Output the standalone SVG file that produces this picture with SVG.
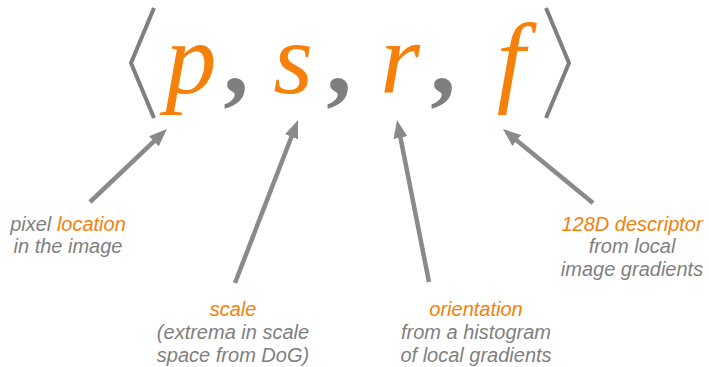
<svg xmlns="http://www.w3.org/2000/svg" width="709" height="367" viewBox="0 0 709 367">
<style>
.math{font-family:"Liberation Serif","DejaVu Serif",serif;font-style:italic;font-size:102px;fill:#F5800A;text-anchor:middle}
.comma{font-family:"Liberation Serif","DejaVu Serif",serif;font-size:102px;fill:#7f7f7f;text-anchor:middle;font-weight:bold}
.br{fill:none;stroke:#7f7f7f;stroke-width:4;stroke-linejoin:miter}
.lbl{font-family:"Liberation Sans",Arial,sans-serif;font-style:italic;font-size:20px;fill:#7f7f7f;text-anchor:middle}
.hl{fill:#F5800A}
.arr{stroke:#8a8a8a;stroke-width:4.5;fill:none;marker-end:url(#ah)}
</style>
<defs>
<marker id="ah" viewBox="0 0 18 14" refX="8" refY="7" markerWidth="18" markerHeight="14" markerUnits="userSpaceOnUse" orient="auto">
<path d="M0,0 L18,7 L0,14 z" fill="#8a8a8a"/>
</marker>
</defs>
<g id="tuple">
<polyline class="br" points="154,8 131,63 154,118"/>
<polyline class="br" points="546,8 569,63 546,118"/>
<text class="math" x="191" y="93">p</text>
<text class="comma" x="236" y="93">,</text>
<text class="math" x="293" y="93">s</text>
<text class="comma" x="339" y="93">,</text>
<text class="math" x="400" y="93">r</text>
<text class="comma" x="443" y="93">,</text>
<text class="math" x="511" y="93">f</text>
</g>
<g id="connectors">
<line class="arr" x1="90" y1="202" x2="159.7" y2="135.9"/>
<line class="arr" x1="235" y1="283" x2="294.4" y2="129.3"/>
<line class="arr" x1="429" y1="282" x2="398.9" y2="129.8"/>
<line class="arr" x1="593" y1="203" x2="510.7" y2="135.4"/>
</g>
<g id="label-location">
<text class="lbl" x="68" y="231">pixel <tspan class="hl">location</tspan></text>
<text class="lbl" x="68" y="253">in the image</text>
</g>
<g id="label-scale">
<text class="lbl hl" x="233" y="316">scale</text>
<text class="lbl" x="233" y="339">(extrema in scale</text>
<text class="lbl" x="233" y="362">space from DoG)</text>
</g>
<g id="label-orientation">
<text class="lbl hl" x="476" y="316">orientation</text>
<text class="lbl" x="476" y="339">from a histogram</text>
<text class="lbl" x="476" y="362">of local gradients</text>
</g>
<g id="label-descriptor">
<text class="lbl hl" x="632" y="231">128D descriptor</text>
<text class="lbl" x="632" y="253">from local</text>
<text class="lbl" x="632" y="276">image gradients</text>
</g>
</svg>
